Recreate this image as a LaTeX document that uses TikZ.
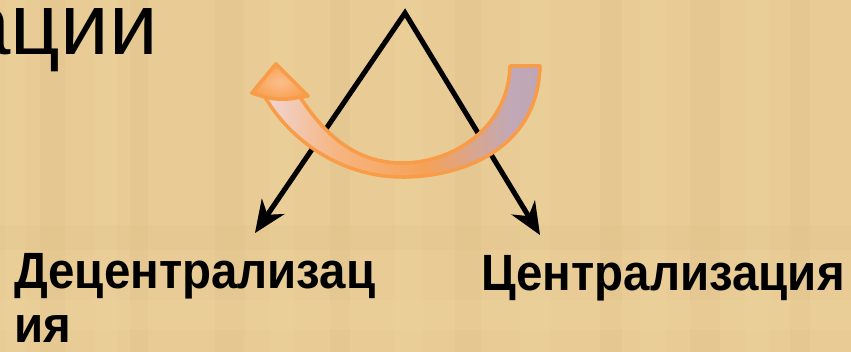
\documentclass[tikz,border=0pt]{standalone}
\usepackage{fontspec}
\setmainfont{Liberation Sans}
\usetikzlibrary{arrows.meta}
\definecolor{bg}{HTML}{E9CC95}
\definecolor{bgdark}{HTML}{D2B27A}
\definecolor{bglight}{HTML}{F3DBA8}
\definecolor{orangeline}{HTML}{F89C48}
\definecolor{headin}{HTML}{FBBE8C}
\definecolor{headout}{HTML}{F9A152}
\definecolor{a1}{HTML}{F9A860}
\definecolor{a2}{HTML}{F4C4AC}
\definecolor{a3}{HTML}{EEDCE4}
\definecolor{a4}{HTML}{F6B47E}
\definecolor{a5}{HTML}{F5A258}
\definecolor{a6}{HTML}{C2A8B6}
\definecolor{a7}{HTML}{B6A2B2}
\definecolor{a8}{HTML}{CB8A58}
\pgfdeclarehorizontalshading{arrowshade}{100bp}{color(0bp)=(a1); color(12bp)=(a2); color(25bp)=(a3); color(40bp)=(a4); color(55bp)=(a5); color(70bp)=(a6); color(85bp)=(a7); color(100bp)=(a8)}
\tikzset{
  titletext/.style={inner sep=0pt, font=\fontsize{87}{96}\selectfont, text=black},
  labtext/.style={inner sep=0pt, font=\fontsize{51}{56}\selectfont\bfseries, text=black},
  blackarrow/.style={draw=black, line width=5pt, line join=miter,
     {Stealth[length=32pt,width=27pt,inset=10pt]}-{Stealth[length=32pt,width=27pt,inset=10pt]}},
  shadowarrow/.style={draw=black!55!bg, line width=5pt, line join=miter, opacity=0.5,
     {Stealth[length=32pt,width=27pt,inset=10pt]}-{Stealth[length=32pt,width=27pt,inset=10pt]}},
  band/.style={opacity=0.14},
  curvearrow/.style={draw=orangeline, line width=3.5pt, line join=round, shading=arrowshade},
  arrowhead/.style={draw=orangeline, line width=3.5pt, line join=round, inner color=headin, outer color=headout}
}
\newcommand{\narrow}[1]{\scalebox{0.93}[1]{#1}}
\begin{document}
\begin{tikzpicture}[x=1pt,y=-1pt]
\useasboundingbox (0,0) rectangle (851,352);
\begin{scope}
\clip (0,0) rectangle (851,352);
\fill[bg] (0,0) rectangle (851,352);
% parchment texture
\foreach \x/\w in {40/25,130/18,215/30,330/20,455/26,600/22,690/30,790/20}
  \fill[bgdark, band] (\x,0) rectangle ++(\w,352);
\foreach \x/\w in {5/20,95/22,270/24,395/28,520/30,640/26,745/24}
  \fill[bglight, band] (\x,0) rectangle ++(\w,352);
\fill[bgdark, opacity=0.1] (0,225) rectangle (851,250);
\fill[bglight, opacity=0.15] (0,300) rectangle (851,330);

% title fragment
\node[titletext, anchor=base east] (title) at (158,55) {ации};

% main arrows
\coordinate (apex) at (405,13);
\coordinate (tipL) at (255,233);
\coordinate (tipR) at (540,235);
\draw[shadowarrow, shift={(2,2)}] (tipL) -- (apex) -- (tipR);
\draw[blackarrow] (tipL) -- (apex) -- (tipR);

% curved orange arrow
\draw[curvearrow]
  (540,66) .. controls (538,150) and (460,178) .. (400,177)
  .. controls (340,176) and (290,140) .. (265,97)
  -- (252,93) -- (276,64) -- (308,96) -- (300,97)
  .. controls (325,135) and (355,162) .. (400,163)
  .. controls (450,164) and (508,130) .. (510,66) -- cycle;
\draw[arrowhead] (265,97) -- (252,93) -- (276,64) -- (308,96) -- (300,97)
  .. controls (290,100) and (275,100) .. (265,97) -- cycle;

% labels
\node[labtext, anchor=base west] (decA) at (14,289) {\narrow{Децентрализац}};
\node[labtext, anchor=base west, text depth=0pt] (decB) at (14,343) {\narrow{ия}};
\node[labtext, anchor=base west] (cen) at (481,291) {\narrow{Централизация}};
\end{scope}
\end{tikzpicture}
\end{document}
